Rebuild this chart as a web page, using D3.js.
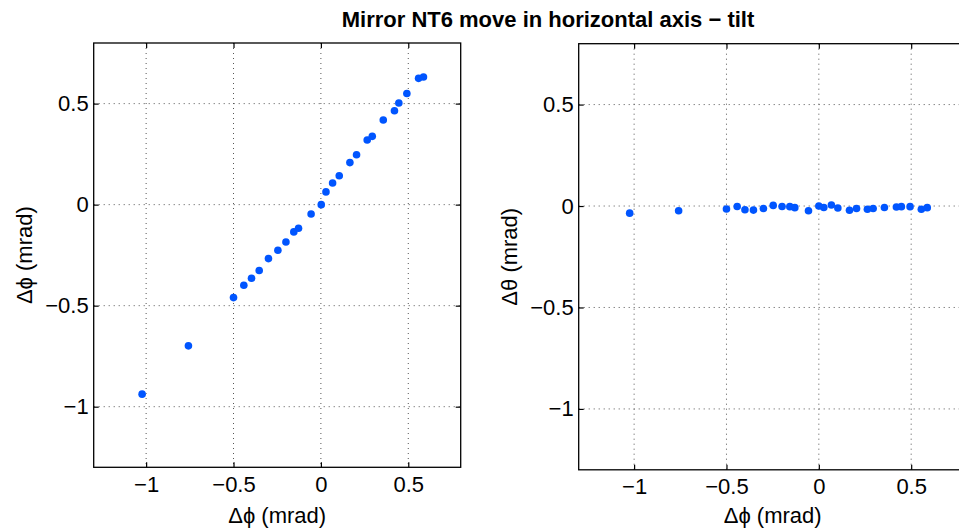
<!DOCTYPE html>
<html>
<head>
<meta charset="utf-8">
<script src="https://cdn.jsdelivr.net/npm/d3@7"></script>
<style>
  body { margin: 0; background: #fff; }
  text { font-family: "Liberation Sans", Arial, sans-serif; }
</style>
</head>
<body>
<svg id="chart" width="959" height="531"></svg>
<script>
// measured tilt values (mrad)
const dPhiX = [-1.023, -0.758, -0.500, -0.441, -0.397, -0.353, -0.300, -0.246, -0.200, -0.155, -0.128, -0.056, 0.002,
               0.029, 0.067, 0.105, 0.166, 0.204, 0.265, 0.294, 0.357, 0.421, 0.446, 0.492, 0.559, 0.587];
const dPhiY = [-0.938, -0.699, -0.460, -0.399, -0.364, -0.326, -0.267, -0.226, -0.185, -0.135, -0.117, -0.046, 0.000,
               0.063, 0.107, 0.143, 0.208, 0.247, 0.320, 0.338, 0.419, 0.465, 0.503, 0.550, 0.625, 0.632];
const dThetaX = [-1.024, -0.759, -0.500, -0.442, -0.400, -0.354, -0.300, -0.247, -0.199, -0.157, -0.130, -0.056, 0.000,
                 0.027, 0.068, 0.103, 0.166, 0.204, 0.263, 0.294, 0.355, 0.420, 0.447, 0.494, 0.555, 0.587];
const dThetaY = [-0.035, -0.023, -0.015, -0.002, -0.018, -0.020, -0.012, 0.003, -0.002, -0.003, -0.008, -0.023, 0.000,
                 -0.007, 0.005, -0.010, -0.021, -0.012, -0.016, -0.012, -0.007, -0.005, -0.003, -0.003, -0.016, -0.008];

const xTicks = [-1, -0.5, 0, 0.5];
const yTicks = [-1, -0.5, 0, 0.5];
const domain = [-1.3, 0.8];
const title = "Mirror NT6 move in horizontal axis \u2212 tilt";

const svg = d3.select("#chart");
const fmt = d => d === 0 ? "0" : String(d).replace("-", "\u2212");

function drawPanel(box, xs, ys, xLabel, yLabel) {
    const x = d3.scaleLinear().domain(domain).range([box.left, box.right]);
    const y = d3.scaleLinear().domain(domain).range([box.bottom, box.top]);
    const g = svg.append("g");

    // grid
    g.append("g").selectAll("line").data(xTicks).enter().append("line")
        .attr("x1", d => x(d)).attr("x2", d => x(d))
        .attr("y1", box.top).attr("y2", box.bottom)
        .style("stroke", "#555").style("stroke-width", 1).style("stroke-dasharray", "1,4");
    g.append("g").selectAll("line").data(yTicks).enter().append("line")
        .attr("y1", d => y(d)).attr("y2", d => y(d))
        .attr("x1", box.left).attr("x2", box.right)
        .style("stroke", "#555").style("stroke-width", 1).style("stroke-dasharray", "1,4");

    // axes with inward ticks
    g.append("g").attr("transform", `translate(0,${box.bottom})`)
        .call(d3.axisBottom(x).tickValues(xTicks).tickFormat(fmt).tickSizeInner(-5).tickSizeOuter(0).tickPadding(9));
    g.append("g").attr("transform", `translate(0,${box.top})`)
        .call(d3.axisTop(x).tickValues(xTicks).tickFormat("").tickSizeInner(-5).tickSizeOuter(0));
    g.append("g").attr("transform", `translate(${box.left},0)`)
        .call(d3.axisLeft(y).tickValues(yTicks).tickFormat(fmt).tickSizeInner(-5).tickSizeOuter(0).tickPadding(5));
    g.append("g").attr("transform", `translate(${box.right},0)`)
        .call(d3.axisRight(y).tickValues(yTicks).tickFormat("").tickSizeInner(-5).tickSizeOuter(0));
    g.selectAll(".domain").remove();
    g.selectAll(".tick line").style("stroke", "#000").style("stroke-width", 1.2);
    g.selectAll(".tick text").style("font-size", "22px").style("fill", "#000");

    g.append("rect")
        .attr("x", box.left).attr("y", box.top)
        .attr("width", box.right - box.left).attr("height", box.bottom - box.top)
        .style("fill", "none").style("stroke", "#000").style("stroke-width", 1.3);

    g.append("g").selectAll("circle").data(d3.range(xs.length)).enter().append("circle")
        .attr("cx", i => x(xs[i]))
        .attr("cy", i => y(ys[i]))
        .attr("r", 3.8)
        .style("fill", "#0055ff");

    g.append("text")
        .attr("x", (box.left + box.right) / 2).attr("y", 523)
        .attr("text-anchor", "middle").style("font-size", "22px")
        .text(xLabel);
    g.append("text")
        .attr("transform", `translate(${box.left - 62},${(box.top + box.bottom) / 2}) rotate(-90)`)
        .attr("text-anchor", "middle").style("font-size", "22px")
        .text(yLabel);
}

drawPanel({left: 93.7, right: 460.7, top: 43, bottom: 467.3}, dPhiX, dPhiY, "\u0394\u03d5 (mrad)", "\u0394\u03d5 (mrad)");
drawPanel({left: 578.7, right: 966.6, top: 43.7, bottom: 469.8}, dThetaX, dThetaY, "\u0394\u03d5 (mrad)", "\u0394\u03b8 (mrad)");

svg.append("text")
    .attr("x", 548).attr("y", 27)
    .attr("text-anchor", "middle")
    .style("font-size", "22px").style("font-weight", "bold")
    .text(title);
</script>
</body>
</html>
